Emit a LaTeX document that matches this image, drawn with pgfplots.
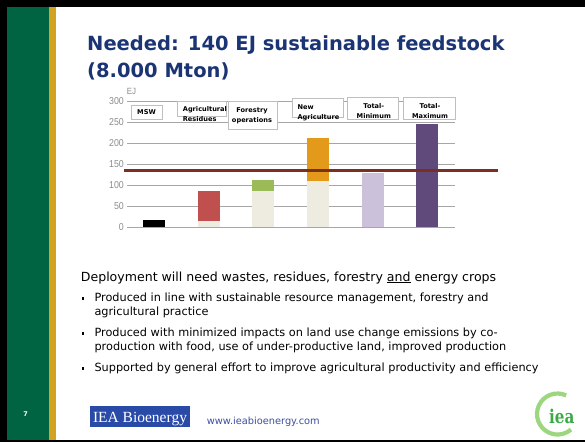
\documentclass[border=0pt]{standalone}
\usepackage{pgfplots}
\pgfplotsset{compat=1.18}
\usepackage{fontspec}
\setmainfont{DejaVu Sans}
\newfontfamily\arialfont{Liberation Sans}
\newfontfamily\timesfont{Liberation Serif}
\newfontfamily\slabfont{DejaVu Serif}
\definecolor{sgreen}{HTML}{006341}
\definecolor{sgold}{HTML}{D1A320}
\definecolor{titleblue}{HTML}{1B3473}
\definecolor{cblack}{HTML}{000000}
\definecolor{cred}{HTML}{C0504D}
\definecolor{cbeige}{HTML}{EEECE1}
\definecolor{cgreen}{HTML}{9BBB59}
\definecolor{corange}{HTML}{E3991A}
\definecolor{clav}{HTML}{CCC1DA}
\definecolor{cpurple}{HTML}{604A7B}
\definecolor{cline}{HTML}{7B2F22}
\definecolor{gridgray}{HTML}{A6A6A6}
\definecolor{tickgray}{HTML}{8C8C8C}
\definecolor{boxgray}{HTML}{BFBFBF}
\definecolor{ieablue}{HTML}{2A4AA8}
\definecolor{urlblue}{HTML}{3C4F9F}
\definecolor{logolight}{HTML}{9CD67F}
\definecolor{logodark}{HTML}{3DAA47}
\begin{document}
\begin{tikzpicture}
\path[use as bounding box] (0,0) rectangle (585pt,442pt);
\fill[white] (0,0) rectangle (585pt,442pt);
\begin{scope}[x=1pt,y=-1pt,shift={(0pt,442pt)}]
  % frame
  \fill[black] (0,0) rectangle (585,6.7);
  \fill[black] (0,0) rectangle (6.7,442);
  \fill[black] (0,440) rectangle (585,442);
  \fill[sgreen] (6.7,6.7) rectangle (49,440);
  \fill[sgold] (49,6.7) rectangle (56,440);
  % title
  \node[anchor=base west, inner sep=0, text=titleblue, font=\fontsize{19.5}{23}\selectfont\bfseries] at (87,50.4) {Needed: 140 EJ sustainable feedstock};
  \node[anchor=base west, inner sep=0, text=titleblue, font=\fontsize{19.5}{23}\selectfont\bfseries] at (87,77.6) {(8.000 Mton)};
  % body text
  \node[anchor=base west, inner sep=0, font=\fontsize{12.55}{14}\selectfont] at (80.7,281) {Deployment will need wastes, residues, forestry \underline{and} energy crops};
  \foreach \yy/\txt in {301.7/{Produced in line with sustainable resource management, forestry and},
                        315.7/{agricultural practice},
                        336.7/{Produced with minimized impacts on land use change emissions by co-},
                        350.7/{production with food, use of under-productive land, improved production},
                        371.7/{Supported by general effort to improve agricultural productivity and efficiency}}
    {\node[anchor=base west, inner sep=0, font=\fontsize{11.3}{13}\selectfont] at (94.3,\yy) {\txt};}
  \foreach \yy in {301.7,336.7,371.7}
    {\fill[black] (81.8,\yy-4.4) rectangle (84.3,\yy-1.9);}
  % footer
  \node[text=white, font=\fontsize{6.5}{7}\selectfont\bfseries, inner sep=0] at (25.7,414) {7};
  \fill[ieablue] (90,406) rectangle (190,426.7);
  \node[anchor=base, inner sep=0, text=white, font=\timesfont\fontsize{15.5}{17}\selectfont] at (140,422.7) {IEA Bioenergy};
  \node[anchor=base west, inner sep=0, text=urlblue, font=\fontsize{9.8}{11}\selectfont] at (206.7,424) {www.ieabioenergy.com};
  % logo
  \draw[logolight, line width=4.2pt] ({557.5+20.5*cos(-65)},{414+20.5*sin(-65)}) arc[start angle=-65, end angle=-311, radius=20.5];
  \node[anchor=base west, inner sep=0, text=logodark, xscale=0.8, font=\slabfont\bfseries\fontsize{19}{20}\selectfont] at (549,423) {iea};
\end{scope}

\begin{axis}[
  at={(127pt,215pt)}, anchor=south west,
  scale only axis, width=327.5pt, height=125.7pt,
  xmin=-0.5, xmax=5.5, ymin=0, ymax=300,
  ytick={0,50,...,300}, xtick=\empty,
  axis line style={draw=none},
  ymajorgrids, grid style={gridgray, line width=0.8pt},
  major tick length=0pt,
  yticklabel style={font=\arialfont\fontsize{10}{12}\selectfont, text=tickgray, xscale=0.88},
  /pgf/number format/assume math mode=true,
  ybar, bar width=22pt, bar shift=0pt,
  clip=false,
]
\addplot[fill=cblack, draw=none] coordinates {(0,17)};
\addplot[fill=cred, draw=none] coordinates {(1,85)};
\addplot[fill=cbeige, draw=none] coordinates {(1,15)};
\addplot[fill=cgreen, draw=none] coordinates {(2,112)};
\addplot[fill=cbeige, draw=none] coordinates {(2,85)};
\addplot[fill=corange, draw=none] coordinates {(3,213)};
\addplot[fill=cbeige, draw=none] coordinates {(3,110)};
\addplot[fill=clav, draw=none] coordinates {(4,130)};
\addplot[fill=cpurple, draw=none] coordinates {(5,245)};
\addplot[sharp plot, draw=cline, line width=3pt, no marks] coordinates {(-0.555,135) (6.3,135)};
\end{axis}

\begin{scope}[x=1pt,y=-1pt,shift={(0pt,442pt)}]
  \node[anchor=west, inner sep=0, text=tickgray, xscale=0.88, font=\arialfont\fontsize{9}{10}\selectfont] at (126.7,91.7) {EJ};
  \tikzset{cbox/.style={fill=white, draw=boxgray, line width=0.8pt}}
  \tikzset{ctxt/.style={inner sep=0, font=\fontsize{6.6}{7}\selectfont\bfseries}}
  \draw[cbox] (131,105) rectangle (162,119);
  \node[ctxt] at (146.5,112) {MSW};
  \draw[cbox] (177,101) rectangle (226,116);
  \node[ctxt, anchor=west] at (182.7,109.3) {Agricultural};
  \node[ctxt, anchor=west] at (182.7,119.3) {Residues};
  \draw[cbox] (228,101) rectangle (277,129);
  \node[ctxt] at (252,110.7) {Forestry};
  \node[ctxt] at (252,120.3) {operations};
  \draw[cbox] (292,98) rectangle (343,117);
  \node[ctxt, anchor=west] at (297.3,107.3) {New};
  \node[ctxt, anchor=west] at (297.3,118) {Agriculture};
  \draw[cbox] (347,97) rectangle (398,119);
  \node[ctxt] at (373.8,106) {Total-};
  \node[ctxt] at (373.8,116) {Minimum};
  \draw[cbox] (403,97) rectangle (455,119);
  \node[ctxt] at (430,106) {Total-};
  \node[ctxt] at (430,116) {Maximum};
\end{scope}
\end{tikzpicture}
\end{document}
